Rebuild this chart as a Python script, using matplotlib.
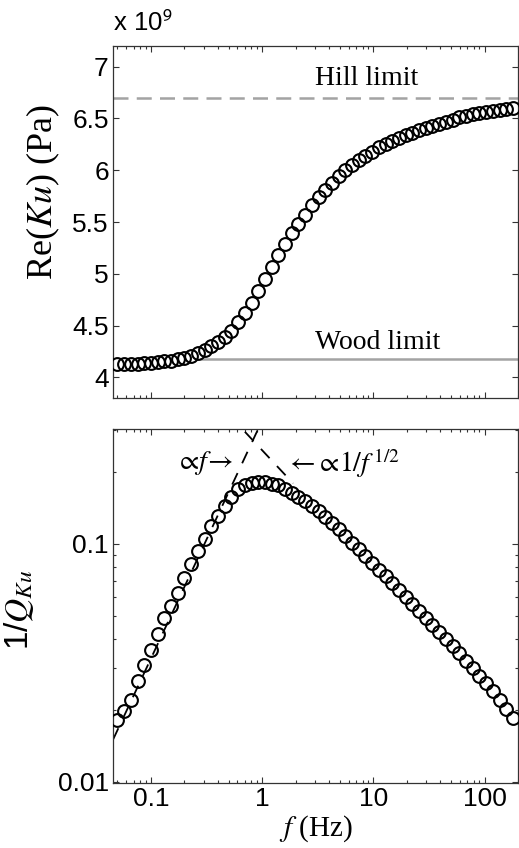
import numpy as np
import matplotlib
matplotlib.use('Agg')
import matplotlib.pyplot as plt
from matplotlib.ticker import FixedLocator, LogLocator, NullFormatter, FuncFormatter

plt.rcParams['font.family'] = ['Liberation Sans', 'DejaVu Sans']
plt.rcParams['mathtext.fontset'] = 'stix'

# frequencias (Hz)
freq = [0.0500, 0.0574, 0.0660, 0.0758, 0.0871, 0.1001, 0.1150, 0.1321, 0.1518, 0.1743,
        0.2003, 0.2301, 0.2644, 0.3038, 0.3490, 0.4010, 0.4607, 0.5293, 0.6081, 0.6986,
        0.8026, 0.9221, 1.0593, 1.2171, 1.3982, 1.6064, 1.8455, 2.1203, 2.4360, 2.7987,
        3.2154, 3.6941, 4.2441, 4.8760, 5.6020, 6.4360, 7.3943, 8.4951, 9.7599, 11.213,
        12.882, 14.800, 17.004, 19.535, 22.444, 25.785, 29.624, 34.035, 39.102, 44.924,
        51.612, 59.296, 68.124, 78.267, 89.920, 103.31, 118.69, 136.36, 156.66, 180.00]

# Re(Ku) en unidades de 1e9 Pa
re_ku = [4.125, 4.128, 4.130, 4.133, 4.137, 4.141, 4.146, 4.153, 4.162, 4.175,
         4.19, 4.21, 4.235, 4.265, 4.30, 4.34, 4.39, 4.45, 4.53, 4.62,
         4.72, 4.83, 4.95, 5.07, 5.18, 5.29, 5.39, 5.48, 5.57, 5.66,
         5.74, 5.81, 5.88, 5.94, 6.00, 6.05, 6.10, 6.14, 6.18, 6.22,
         6.25, 6.28, 6.31, 6.34, 6.36, 6.39, 6.41, 6.43, 6.45, 6.47,
         6.49, 6.51, 6.52, 6.54, 6.55, 6.56, 6.57, 6.58, 6.59, 6.60]

# atenuacion 1/Q
inv_q = [0.0182, 0.0198, 0.0222, 0.0265, 0.0310, 0.0360, 0.0420, 0.0490, 0.0550, 0.0625,
         0.0720, 0.0820, 0.0930, 0.1050, 0.1190, 0.1310, 0.1440, 0.1580, 0.1700, 0.1770,
         0.1810, 0.1820, 0.1820, 0.1790, 0.1760, 0.1700, 0.1640, 0.1580, 0.1510, 0.1440,
         0.1370, 0.1300, 0.1220, 0.1150, 0.1080, 0.1010, 0.0950, 0.0890, 0.0833, 0.0780,
         0.0730, 0.0683, 0.0640, 0.0600, 0.0560, 0.0523, 0.0490, 0.0457, 0.0427, 0.0398,
         0.0372, 0.0347, 0.0323, 0.0300, 0.0280, 0.0260, 0.0240, 0.0220, 0.0202, 0.0185]

hill = 6.70
wood = 4.18
wood_start = 0.28
# asintotas
slope_low = 0.33      # 1/Q ~ 0.33 f
slope_high = 0.2476   # 1/Q ~ 0.2476 / sqrt(f)
low_range = [0.0456, 1.0]
high_range = [0.70, 1.9]

xlim = (0.0456, 200)
xticks = [0.1, 1, 10, 100]
yticks_top = [4, 4.5, 5, 5.5, 6, 6.5, 7]
yticks_bot = [0.01, 0.1]

W, H = 519, 848
fig = plt.figure(figsize=(W/100, H/100), dpi=100)
ax1 = fig.add_axes([113/W, 1-398/H, 405/W, 352/H])
ax2 = fig.add_axes([113/W, 1-783/H, 405/W, 354/H])

serif = ['Liberation Serif', 'DejaVu Serif']
gray = '#a3a3a3'
mk = dict(marker='o', ms=9.2, mfc='none', mec='black', mew=1.5, ls='none')

# panel superior
ax1.axhline(hill, color=gray, lw=1.8, ls=(0, (6, 3.3)), zorder=1)
ax1.plot([wood_start, xlim[1]], [wood, wood], color=gray, lw=1.8, zorder=1)
ax1.plot(freq, re_ku, zorder=3, **mk)
ax1.set_xscale('log')
ax1.set_xlim(xlim)
ax1.set_ylim(3.8, 7.2)
ax1.yaxis.set_major_locator(FixedLocator(yticks_top))
ax1.yaxis.set_major_formatter(FuncFormatter(lambda v, p: '%g' % v))
ax1.xaxis.set_major_formatter(NullFormatter())
ax1.xaxis.set_minor_formatter(NullFormatter())
ax1.set_ylabel(r'Re($Ku$) (Pa)', fontsize=26, family=serif)
ax1.yaxis.set_label_coords(-0.125, 0.585)
ax1.text(0.0, 1.03, r'x 10$^{\mathsf{9}}$', transform=ax1.transAxes, fontsize=18.5,
         ha='left', va='bottom')
ax1.text(2.97, 6.885, 'Hill limit', fontsize=20, family=serif, ha='left', va='center')
ax1.text(2.97, 4.34, 'Wood limit', fontsize=20, family=serif, ha='left', va='center')

# panel inferior
xl = np.array(low_range)
xh = np.array(high_range)
ax2.plot(xl, slope_low*xl, color='black', lw=1.3, ls=(0, (7, 6)), zorder=2)
ax2.plot(xh, slope_high/np.sqrt(xh), color='black', lw=1.3, ls=(0, (7, 6)), zorder=2)
ax2.plot(freq, inv_q, zorder=3, **mk)
ax2.set_xscale('log')
ax2.set_yscale('log')
ax2.set_xlim(xlim)
ax2.set_ylim(0.0099, 0.304)
ax2.xaxis.set_major_locator(FixedLocator(xticks))
ax2.xaxis.set_major_formatter(FuncFormatter(lambda v, p: '%g' % v))
ax2.yaxis.set_major_locator(FixedLocator(yticks_bot))
ax2.yaxis.set_major_formatter(FuncFormatter(lambda v, p: '%g' % v))
ax2.yaxis.set_minor_locator(LogLocator(base=10, subs=np.arange(2, 10)))
ax2.yaxis.set_minor_formatter(NullFormatter())
ax2.set_ylabel(r'1/$Q_{Ku}$', fontsize=24)
ax2.yaxis.set_label_coords(-0.19, 0.49)
ax2.set_xlabel(r'$f$ (Hz)', fontsize=21, family=serif)
ax2.xaxis.set_label_coords(0.5, -0.085)
ax2.text(0.55, 0.219, r'$\propto\!f\!\rightarrow$', fontsize=20, ha='right', va='center')
ax2.text(1.62, 0.219, r'$\leftarrow\!\propto\!1/f^{\,1/2}$', fontsize=20, ha='left', va='center')

for ax in (ax1, ax2):
    ax.xaxis.set_minor_locator(LogLocator(base=10, subs=np.arange(2, 10)))
    ax.tick_params(which='both', direction='in', top=True, right=True, labelsize=19,
                   color='#333333', width=0.8, pad=3)
    ax.tick_params(which='major', length=4.5)
    ax.tick_params(which='minor', length=2.5)
    for s in ax.spines.values():
        s.set_color('#333333')
        s.set_linewidth(0.9)

fig.savefig('out.png', dpi=100)
